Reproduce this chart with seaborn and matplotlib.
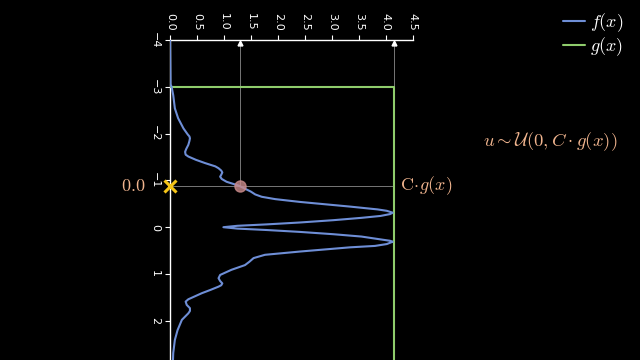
import numpy as np
import pandas as pd
import matplotlib
matplotlib.use("Agg")
import matplotlib.pyplot as plt
import seaborn as sns
from matplotlib.lines import Line2D

# ---- data ----
x_pos = [-4.0, -3.05, -3.0, -2.82, -2.54, -2.33, -2.11, -1.98, -1.94, -1.90, -1.84, -1.76,
         -1.67, -1.61, -1.55, -1.51, -1.44, -1.37, -1.30, -1.26, -1.21, -1.17, -1.12, -1.08,
         -1.03, -0.97, -0.89, -0.80, -0.76, -0.70, -0.65, -0.60, -0.54, -0.44, -0.38, -0.35,
         -0.31, -0.28, -0.24, -0.20, -0.15, -0.10, -0.06, -0.03, 0.0, 0.03, 0.06, 0.10, 0.15,
         0.20, 0.26, 0.29, 0.31, 0.36, 0.40, 0.43, 0.52, 0.59, 0.66, 0.74, 0.81, 0.91, 1.02,
         1.09, 1.15, 1.20, 1.24, 1.27, 1.34, 1.41, 1.54, 1.59, 1.66, 1.73, 1.79, 1.84, 1.98,
         2.20, 2.41, 2.69, 3.0]
f_vals = [0.0, 0.01, 0.03, 0.06, 0.09, 0.15, 0.25, 0.33, 0.36, 0.37, 0.36, 0.34,
          0.30, 0.28, 0.29, 0.34, 0.48, 0.65, 0.84, 0.90, 0.95, 0.97, 0.95, 0.93,
          0.96, 1.05, 1.27, 1.43, 1.50, 1.58, 1.70, 1.95, 2.41, 3.34, 3.85, 4.02,
          4.13, 4.08, 3.90, 3.55, 3.03, 2.40, 1.79, 1.25, 0.99, 1.25, 1.79, 2.40, 3.03,
          3.55, 3.90, 4.08, 4.13, 4.02, 3.80, 3.34, 2.41, 1.76, 1.55, 1.47, 1.39, 1.14, 0.93,
          0.90, 0.93, 0.97, 0.95, 0.90, 0.75, 0.59, 0.34, 0.29, 0.31, 0.37, 0.37, 0.34, 0.22,
          0.14, 0.09, 0.06, 0.05]

C_G = 4.16
g_pos = [-4.0, -3.0, -3.0, 3.2]
g_vals = [0.0, 0.0, C_G, C_G]

x_sample = -0.88
u_sample = 1.29

xticks = [0.0, 0.5, 1.0, 1.5, 2.0, 2.5, 3.0, 3.5, 4.0, 4.5]
yticks = [-4, -3, -2, -1, 0, 1, 2]

BLUE = "#6e8ed6"
GREEN = "#8fcc6c"
PEACH = "#f0b48e"
GRID = "#8a8a8a"

sns.set_theme(style="dark")
plt.rcParams["mathtext.fontset"] = "cm"
plt.rcParams["font.family"] = ["DejaVu Sans"]

fig = plt.figure(figsize=(6.4, 3.6), dpi=100, facecolor="black")
ax = fig.add_axes([170 / 640, (360 - 367.6) / 360, 242.7 / 640, 327.6 / 360])
ax.set_facecolor("black")

df_f = pd.DataFrame({"val": f_vals, "pos": x_pos})
df_g = pd.DataFrame({"val": g_vals, "pos": g_pos})
sns.lineplot(data=df_f, x="val", y="pos", sort=False, estimator=None, orient="y",
             color=BLUE, lw=1.5, ax=ax, zorder=4)
sns.lineplot(data=df_g, x="val", y="pos", sort=False, estimator=None, orient="y",
             color=GREEN, lw=1.5, ax=ax, zorder=3)

# projection lines
ax.plot([u_sample, u_sample], [-4, x_sample], color=GRID, lw=0.6, zorder=2)
ax.plot([C_G, C_G], [-4, -3], color=GRID, lw=0.6, zorder=2)
ax.plot([0, C_G], [x_sample, x_sample], color=GRID, lw=0.6, zorder=2)
ax.plot([u_sample, C_G], [-3.93, -3.93], ls="none", marker="^", ms=3.5,
        color="white", zorder=5, clip_on=False)

ax.plot([u_sample], [x_sample], ls="none", marker="o", ms=8, color="#c98a8a",
        alpha=0.8, zorder=6)
ax.plot([0], [x_sample], ls="none", marker="x", ms=9, mew=2.2, color="#f5c518",
        zorder=7, clip_on=False)

ax.set_xlim(0, 4.5)
ax.set_ylim(3, -4)
ax.xaxis.tick_top()
ax.set_xticks(xticks)
ax.set_yticks(yticks)
ax.set_xticklabels([f"{v:.1f}" for v in xticks], rotation=270, color="white", fontsize=8)
ax.set_yticklabels([f"{v:d}".replace("-", "\u2212") for v in yticks], rotation=270,
                   color="white", fontsize=8, va="center")
ax.tick_params(axis="both", colors="white", length=3.5, width=0.8,
               top=True, bottom=False, left=True, labeltop=True, labelbottom=False)
for side in ["right", "bottom"]:
    ax.spines[side].set_visible(False)
for side in ["left", "top"]:
    ax.spines[side].set_visible(True)
    ax.spines[side].set_color("white")
    ax.spines[side].set_linewidth(1.0)
ax.grid(False)
ax.set_xlabel("")
ax.set_ylabel("")

ax.text(-0.46, x_sample, "$0.0$", color=PEACH, fontsize=13, ha="right", va="center")
ax.text(4.27, x_sample, r"$\mathrm{C}\!\cdot\! g(x)$", color=PEACH, fontsize=13,
        ha="left", va="center", clip_on=False)

fig.text(483 / 640, 1 - 142 / 360, r"$u \sim \mathcal{U}(0, C \cdot g(x))$",
         color=PEACH, fontsize=13.4, ha="left", va="center")

handles = [Line2D([], [], color=BLUE, lw=1.5), Line2D([], [], color=GREEN, lw=1.5)]
fig.legend(handles, ["$f(x)$", "$g(x)$"], loc="upper right",
           bbox_to_anchor=(636 / 640, 1 + 1 / 360), frameon=False, labelcolor="white",
           fontsize=13, handlelength=1.2, handletextpad=0.3, labelspacing=0.05,
           borderpad=0.2)

fig.savefig("out.png", dpi=100, facecolor="black")
